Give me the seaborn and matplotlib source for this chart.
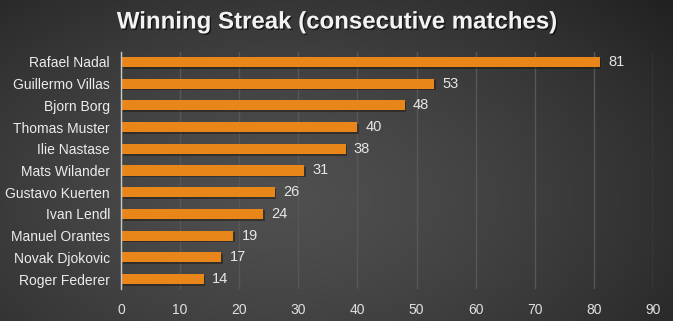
import numpy as np
import pandas as pd
import matplotlib
matplotlib.use("Agg")
import matplotlib.pyplot as plt
import matplotlib.patheffects as pe
import seaborn as sns

players = ["Rafael Nadal", "Guillermo Villas", "Bjorn Borg", "Thomas Muster", "Ilie Nastase",
           "Mats Wilander", "Gustavo Kuerten", "Ivan Lendl", "Manuel Orantes", "Novak Djokovic",
           "Roger Federer"]
streaks = [81, 53, 48, 40, 38, 31, 26, 24, 19, 17, 14]
xticks = [0, 10, 20, 30, 40, 50, 60, 70, 80, 90]
title = "Winning Streak (consecutive matches)"

df = pd.DataFrame({"player": players, "streak": streaks})

sns.set_theme(style="dark")
plt.rcParams["font.family"] = ["Liberation Sans", "DejaVu Sans"]

fig = plt.figure(figsize=(6.73, 3.21), dpi=100)

# background radial gradient
bg = fig.add_axes([0, 0, 1, 1], zorder=-10)
h, w = 321, 673
yy, xx = np.mgrid[0:h, 0:w]
cx, cy = 0.42 * w, 0.62 * h
r = np.sqrt(((xx - cx) / (0.75 * w)) ** 2 + ((yy - cy) / (0.95 * h)) ** 2)
r = np.clip(r, 0, 1)
val = 0.31 - 0.18 * r ** 1.4
img = np.dstack([val, val, val])
bg.imshow(img, aspect="auto", extent=[0, 1, 0, 1], origin="upper")
bg.axis("off")

ax = fig.add_axes([121 / 673, 1 - 289 / 321, (653 - 121) / 673, (289 - 52) / 321])
ax.patch.set_alpha(0)

sns.barplot(data=df, y="player", x="streak", ax=ax, color="#E8861A", width=0.47,
            saturation=1, orient="h")
for p in ax.patches:
    p.set_edgecolor("none")
    p.set_path_effects([pe.SimplePatchShadow(offset=(1.2, -1.2), shadow_rgbFace="#1a1208", alpha=0.45),
                        pe.Normal()])

for i, v in enumerate(streaks):
    ax.text(v + 1.4, i, str(v), va="center", ha="left", color="#e6e6e6", fontsize=10.5)

ax.set_xlim(0, 90)
ax.set_ylim(10.46, -0.46)
ax.set_xticks(xticks)
ax.set_xticklabels([str(t) for t in xticks], color="#e0e0e0", fontsize=10)
ax.set_yticklabels(players, color="#ececec", fontsize=10)
ax.set_xlabel("")
ax.set_ylabel("")
ax.tick_params(axis="both", length=0, pad=8)
ax.tick_params(axis="x", pad=10)
ax.xaxis.grid(True, color="#575757", linewidth=1)
ax.yaxis.grid(False)
ax.set_axisbelow(True)
for s in ["top", "right", "bottom"]:
    ax.spines[s].set_visible(False)
ax.spines["left"].set_color("#c8c8c8")
ax.spines["left"].set_linewidth(1)

fig.text(0.5, 1 - 22 / 321, title, ha="center", va="center", color="#f2f2f2",
         fontsize=17.3, fontweight="bold",
         path_effects=[pe.withSimplePatchShadow(offset=(1, -1), shadow_rgbFace="black", alpha=0.6)])

fig.savefig("out.png", dpi=100)
